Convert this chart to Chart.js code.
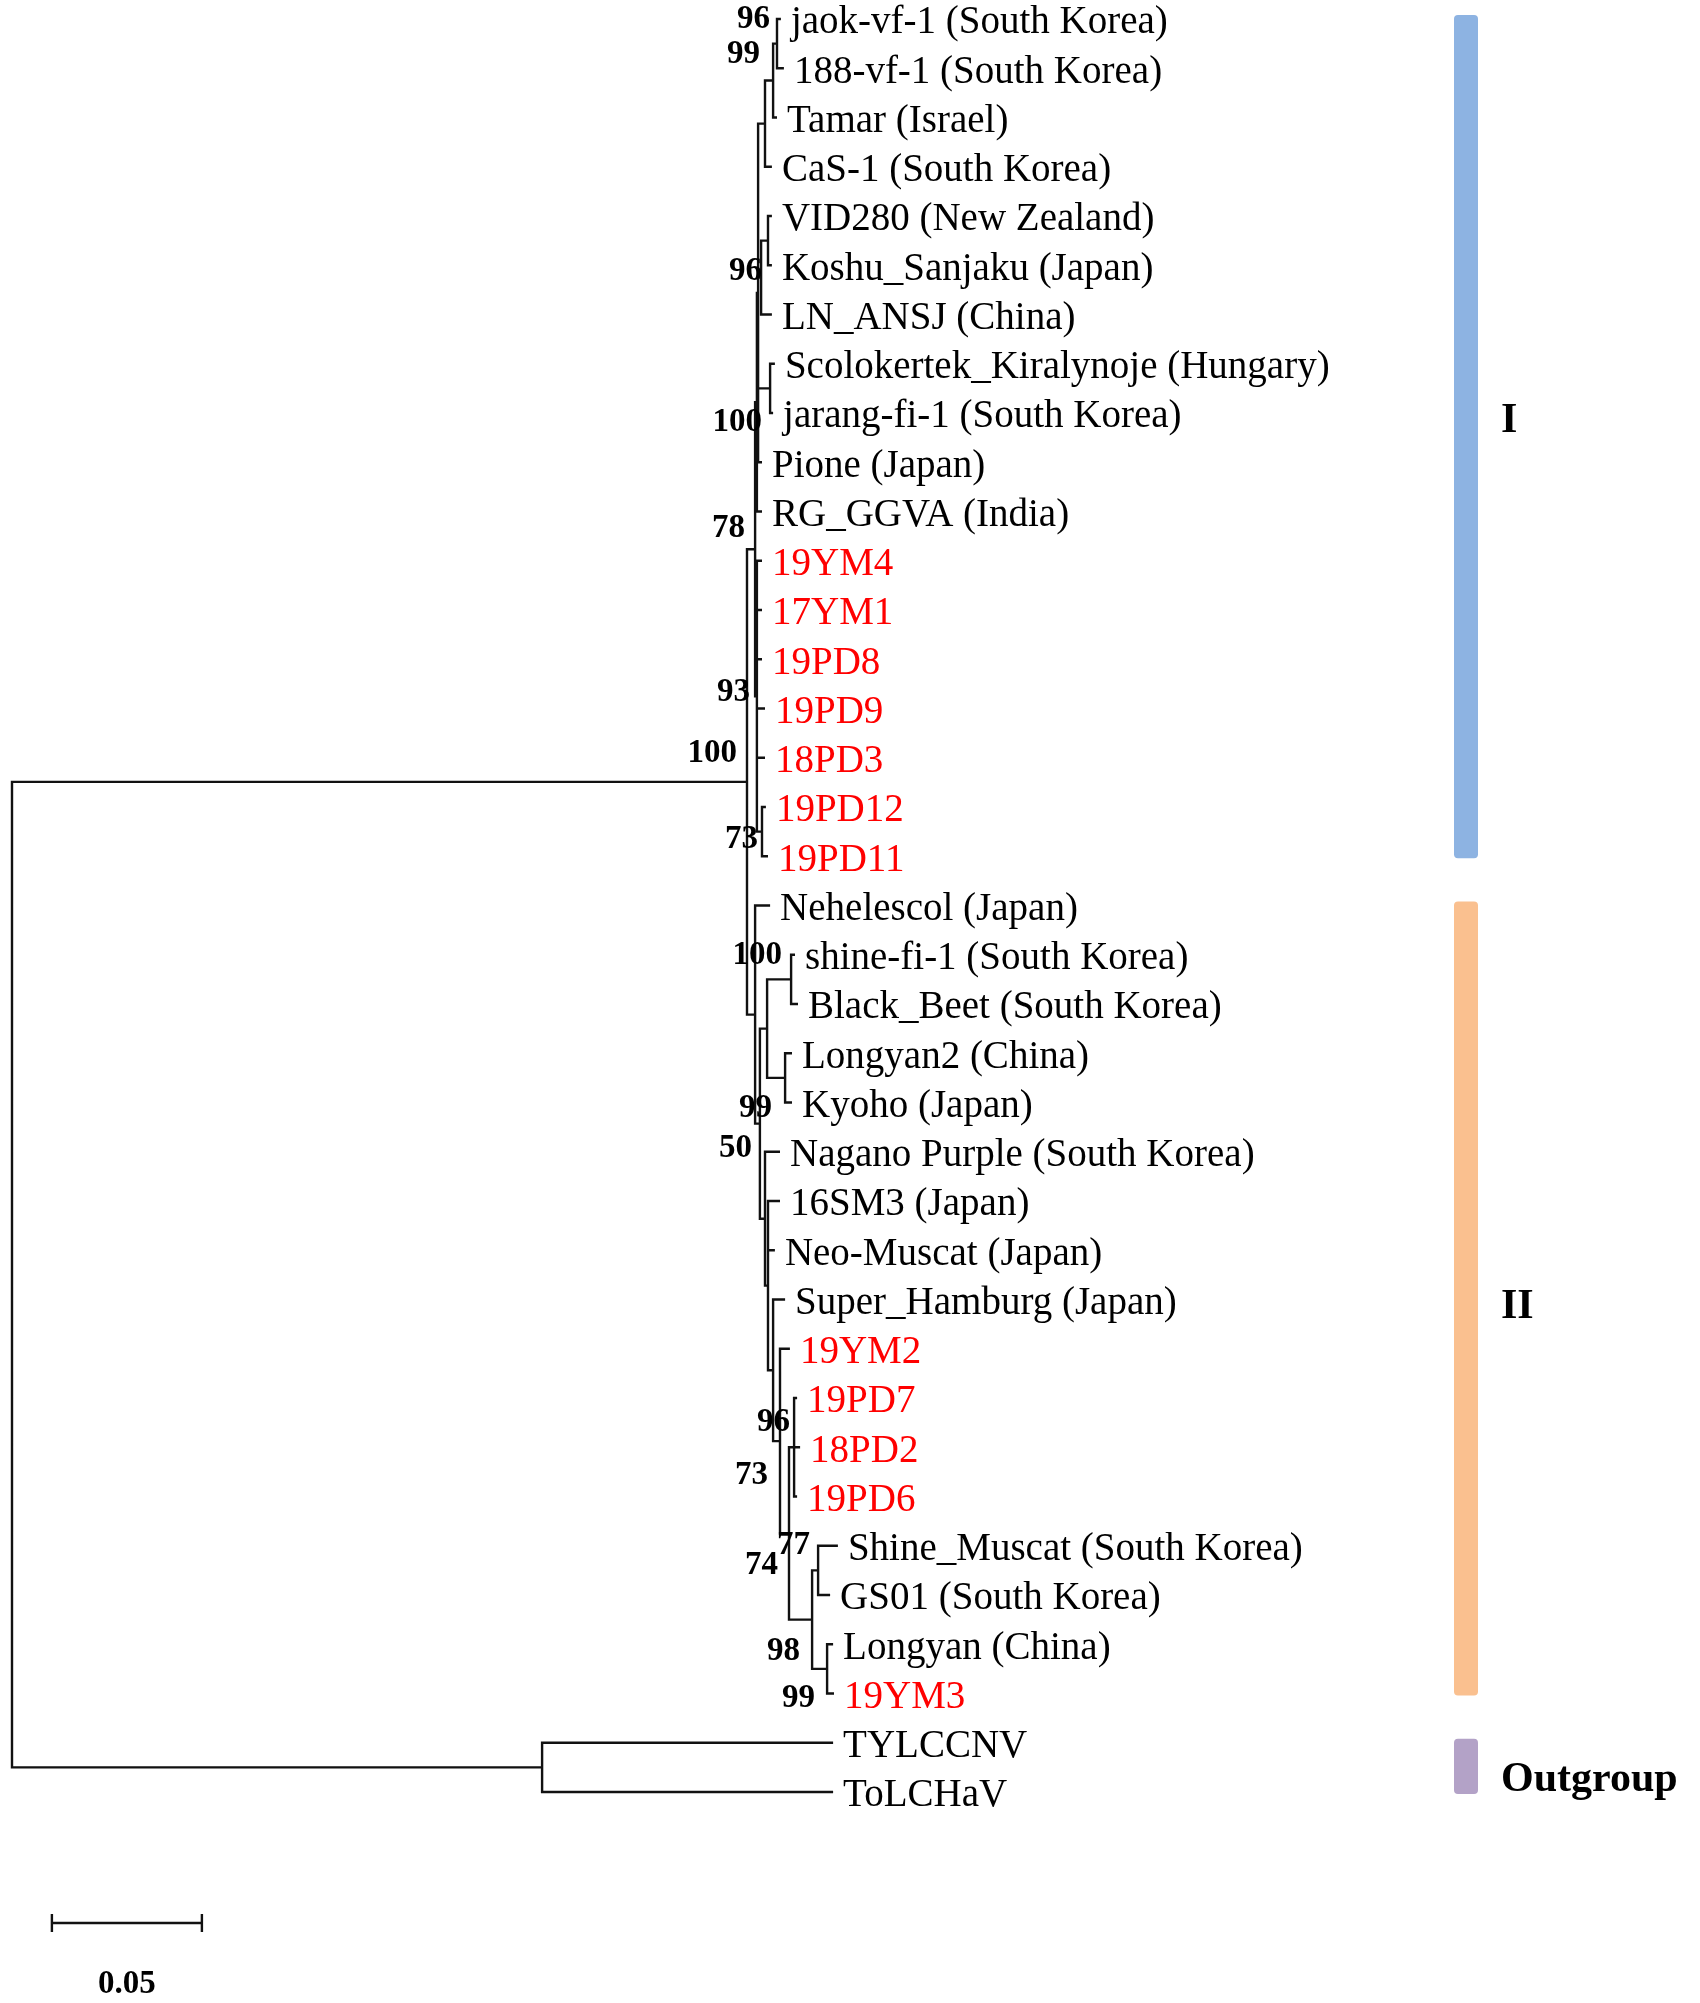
<!DOCTYPE html>
<html>
<head>
<meta charset="utf-8">
<script src="https://cdn.jsdelivr.net/npm/chart.js@4.4.1/dist/chart.umd.min.js"></script>
<style>
  html, body { margin: 0; padding: 0; background: #fff; }
  canvas { display: block; }
</style>
</head>
<body>
<canvas id="treeChart" width="1700" height="2003"></canvas>
<script>
// leaves, top to bottom
const leafNames = [
  'jaok-vf-1 (South Korea)', '188-vf-1 (South Korea)', 'Tamar (Israel)', 'CaS-1 (South Korea)',
  'VID280 (New Zealand)', 'Koshu_Sanjaku (Japan)', 'LN_ANSJ (China)', 'Scolokertek_Kiralynoje (Hungary)',
  'jarang-fi-1 (South Korea)', 'Pione (Japan)', 'RG_GGVA (India)', '19YM4', '17YM1', '19PD8',
  '19PD9', '18PD3', '19PD12', '19PD11', 'Nehelescol (Japan)', 'shine-fi-1 (South Korea)',
  'Black_Beet (South Korea)', 'Longyan2 (China)', 'Kyoho (Japan)', 'Nagano Purple (South Korea)',
  '16SM3 (Japan)', 'Neo-Muscat (Japan)', 'Super_Hamburg (Japan)', '19YM2', '19PD7', '18PD2',
  '19PD6', 'Shine_Muscat (South Korea)', 'GS01 (South Korea)', 'Longyan (China)', '19YM3',
  'TYLCCNV', 'ToLCHaV'
];
// distance from root to each tip
const leafDepth = [
  0.2563, 0.2573, 0.2550, 0.2533, 0.2533, 0.2533, 0.2533, 0.2543, 0.2537, 0.2500,
  0.2500, 0.2500, 0.2500, 0.2500, 0.2510, 0.2510, 0.2513, 0.2520, 0.2527, 0.2610,
  0.2620, 0.2600, 0.2600, 0.2560, 0.2560, 0.2543, 0.2577, 0.2593, 0.2617, 0.2627,
  0.2617, 0.2753, 0.2727, 0.2737, 0.2740, 0.2737, 0.2737
];
const isolates = ['19YM4', '17YM1', '19PD8', '19PD9', '18PD3', '19PD12', '19PD11',
  '19YM2', '19PD7', '18PD2', '19PD6', '19YM3'];

// internal nodes: numbers are leaf indexes, strings are other nodes
const nodeNames = ['root', 'out', 'ing', 'cI', 'nG2', 'nG', 'nC', 'nB', 'nA', 'nE', 'nD', 'nF',
  'n93', 'n73', 'cII', 'n99', 'nSBLK', 'nSB', 'nLK', 'nNS', 'nX', 'nSH', 'n780', 'n74', 'nPD',
  'n98', 'n77', 'n99b'];
const nodeDepth = [0, 0.1767, 0.2450, 0.2477, 0.2483, 0.2487, 0.2510, 0.2537, 0.2550, 0.2497,
  0.2520, 0.2527, 0.2483, 0.2500, 0.2477, 0.2493, 0.2517, 0.2597, 0.2577, 0.2510, 0.2520,
  0.2537, 0.2560, 0.2590, 0.2607, 0.2667, 0.2687, 0.2717];
const nodeKids = [
  ['ing', 'out'], [35, 36], ['cI', 'cII'], ['nG2', 'n93'], ['nG', 10], ['nC', 'nE', 'nF', 9],
  ['nB', 3], ['nA', 2], [0, 1], ['nD', 6], [4, 5], [7, 8],
  [11, 12, 13, 14, 15, 'n73'], [16, 17], [18, 'n99'], ['nSBLK', 'nNS'], ['nSB', 'nLK'],
  [19, 20], [21, 22], [23, 'nX'], [24, 25, 'nSH'], [26, 'n780'], [27, 'n74'], ['nPD', 'n98'],
  [28, 29, 30], ['n77', 'n99b'], [31, 32], [33, 34]
];

// bootstrap support
const bootNodes = ['nA', 'nB', 'nE', 'nF', 'cI', 'n93', 'n73', 'ing', 'nSB', 'n99', 'nNS',
  'n780', 'nSH', 'n77', 'n74', 'n98', 'n99b'];
const bootValues = [96, 99, 96, 100, 78, 93, 73, 100, 100, 99, 50, 96, 73, 77, 74, 98, 99];

const cladeNames = ['I', 'II', 'Outgroup'];
const cladeFirst = [0, 18, 35];
const cladeLast = [17, 34, 36];

const scaleBarLength = 0.05;

// ---- layout / style (pixels) ----
const W = 1700, H = 2003;
const pxPerUnit = 3000, rootPx = 12;
const rowPx = 49.25, firstRowPx = 19;
const bootOffsets = [[-7, -24], [-13, -26], [1, -6], [-8, 34], [-10, -21], [-7, -4], [-4, 8],
  [-10, -28], [-9, -24], [12, -15], [-13, -70], [10, -19], [-5, 105], [-8, -25], [-11, 32],
  [-12, 32], [-12, 30]];
const cladeColors = ['#8db3e2', '#fac08f', '#b3a2c7'];
const cladeLabelDy = [-15, 9, 14];
const barLeftPx = 1454, barWidthPx = 24;
const serif = '"Liberation Serif", "Times New Roman", serif';

const nodeIndex = name => nodeNames.indexOf(name);
const depthOf = ref => typeof ref === 'number' ? leafDepth[ref] : nodeDepth[nodeIndex(ref)];
const rowCache = {};
function rowOf(ref) {
  if (typeof ref === 'number') return ref;
  if (rowCache[ref] === undefined) {
    const rows = nodeKids[nodeIndex(ref)].map(rowOf);
    rowCache[ref] = (Math.min(...rows) + Math.max(...rows)) / 2;
  }
  return rowCache[ref];
}

// rectangular branches, broken by null points
const branchData = [];
nodeNames.forEach((name, i) => {
  const kids = nodeKids[i];
  const x = nodeDepth[i];
  const first = kids[0], last = kids[kids.length - 1];
  branchData.push(
    {x: depthOf(first), y: rowOf(first)}, {x: x, y: rowOf(first)},
    {x: x, y: rowOf(last)}, {x: depthOf(last), y: rowOf(last)}, {x: null, y: null});
  kids.slice(1, -1).forEach(k => {
    branchData.push({x: x, y: rowOf(k)}, {x: depthOf(k), y: rowOf(k)}, {x: null, y: null});
  });
});

const treeText = {
  id: 'treeText',
  afterDatasetsDraw(chart) {
    const {ctx, scales: {x, y}} = chart;
    ctx.save();
    ctx.textBaseline = 'middle';

    // tip labels
    ctx.textAlign = 'left';
    ctx.font = '39px ' + serif;
    leafNames.forEach((name, i) => {
      ctx.fillStyle = isolates.includes(name) ? '#ff0000' : '#000';
      ctx.fillText(name, x.getPixelForValue(leafDepth[i]) + 10, y.getPixelForValue(i) + 4);
    });

    // bootstrap values
    ctx.textAlign = 'right';
    ctx.fillStyle = '#000';
    ctx.font = 'bold 33px ' + serif;
    bootNodes.forEach((n, i) => {
      const px = x.getPixelForValue(depthOf(n)) + bootOffsets[i][0];
      const py = y.getPixelForValue(rowOf(n)) + bootOffsets[i][1];
      ctx.fillText(String(bootValues[i]), px, py);
    });

    // clade bars and names
    ctx.textAlign = 'left';
    ctx.font = 'bold 42px ' + serif;
    cladeNames.forEach((name, i) => {
      const top = y.getPixelForValue(cladeFirst[i] - 0.08);
      const bottom = y.getPixelForValue(cladeLast[i] + 0.04);
      ctx.fillStyle = cladeColors[i];
      ctx.beginPath();
      if (ctx.roundRect) ctx.roundRect(barLeftPx, top, barWidthPx, bottom - top, 4);
      else ctx.rect(barLeftPx, top, barWidthPx, bottom - top);
      ctx.fill();
      ctx.fillStyle = '#000';
      ctx.fillText(name, barLeftPx + 47, (top + bottom) / 2 + cladeLabelDy[i]);
    });

    // scale bar
    const sx0 = x.getPixelForValue(0.0133);
    const sx1 = x.getPixelForValue(0.0133 + scaleBarLength);
    const sy = 1923;
    ctx.strokeStyle = '#111';
    ctx.lineWidth = 2.4;
    ctx.beginPath();
    ctx.moveTo(sx0, sy); ctx.lineTo(sx1, sy);
    ctx.moveTo(sx0, sy - 9); ctx.lineTo(sx0, sy + 9);
    ctx.moveTo(sx1, sy - 9); ctx.lineTo(sx1, sy + 9);
    ctx.stroke();
    ctx.textAlign = 'center';
    ctx.font = 'bold 33px ' + serif;
    ctx.fillText(String(scaleBarLength), (sx0 + sx1) / 2, sy + 61);
    ctx.restore();
  }
};

const xMin = -rootPx / pxPerUnit;
const yMin = -firstRowPx / rowPx;

new Chart(document.getElementById('treeChart').getContext('2d'), {
  type: 'scatter',
  data: {
    datasets: [{
      data: branchData,
      showLine: true,
      spanGaps: false,
      borderColor: '#111',
      borderWidth: 2.4,
      borderJoinStyle: 'miter',
      pointRadius: 0,
      pointHoverRadius: 0
    }]
  },
  options: {
    responsive: false,
    devicePixelRatio: 1,
    animation: false,
    layout: { padding: 0 },
    plugins: { legend: { display: false }, tooltip: { enabled: false } },
    scales: {
      x: { type: 'linear', display: false, min: xMin, max: xMin + W / pxPerUnit },
      y: { type: 'linear', display: false, reverse: true, min: yMin, max: yMin + H / rowPx }
    }
  },
  plugins: [treeText]
});
</script>
</body>
</html>
